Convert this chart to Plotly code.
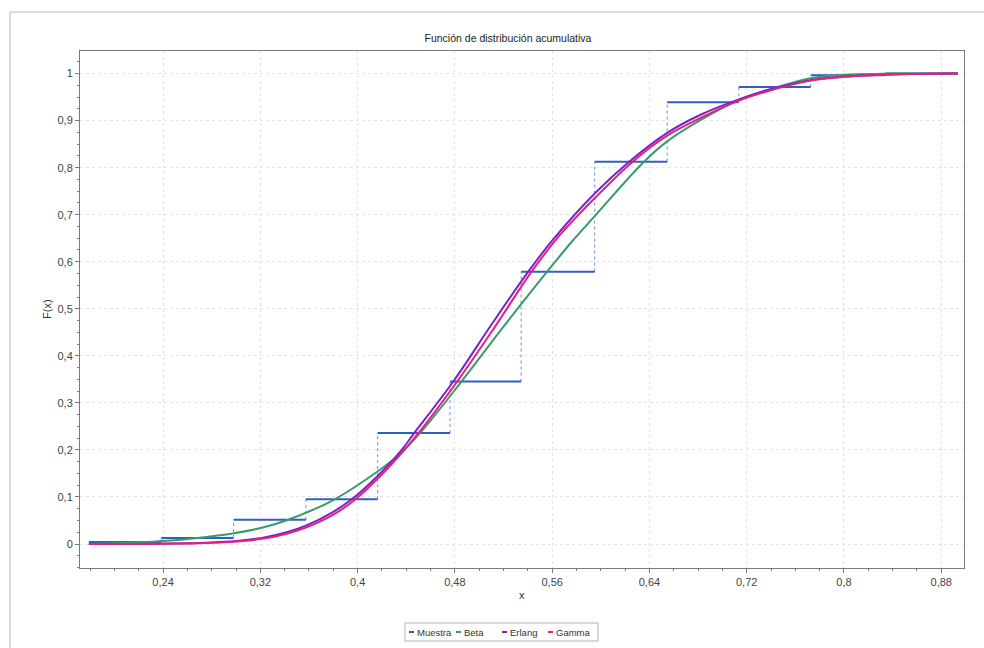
import plotly.graph_objects as go

# ---------------- data ----------------
muestra_edges = [0.179, 0.2385, 0.298, 0.3575, 0.4165, 0.476, 0.5345, 0.595,
                 0.6546, 0.7135, 0.7726, 0.8337, 0.8936]
muestra_values = [0.0043, 0.0129, 0.0514, 0.0953, 0.2358, 0.3454, 0.5790,
                  0.8128, 0.9390, 0.9716, 0.9964, 1.0]

beta_x = [0.179, 0.20, 0.22, 0.24, 0.2685, 0.2983, 0.3213, 0.3417, 0.3797,
          0.4158, 0.434, 0.4515, 0.4854, 0.52, 0.556, 0.5763, 0.595, 0.6345,
          0.6546, 0.6993, 0.7131, 0.7365, 0.7726, 0.805, 0.84, 0.8936]
beta_y = [0.0, 0.0015, 0.0035, 0.0064, 0.013, 0.023, 0.0345, 0.0505, 0.093,
          0.153, 0.190, 0.2362, 0.3454, 0.462, 0.5794, 0.643, 0.697, 0.810,
          0.856, 0.926, 0.943, 0.964, 0.990, 0.998, 1.0, 1.0]

erlang_x = [0.179, 0.22, 0.25, 0.275, 0.2983, 0.3213, 0.3417, 0.3574, 0.3797,
            0.3952, 0.4158, 0.434, 0.4467, 0.4787, 0.51, 0.5405, 0.560, 0.595,
            0.6226, 0.6546, 0.6816, 0.713, 0.7365, 0.7726, 0.805, 0.846, 0.8936]
erlang_y = [0.0, 0.0002, 0.001, 0.0028, 0.0057, 0.013, 0.025, 0.039, 0.068,
            0.095, 0.143, 0.193, 0.2362, 0.3454, 0.466, 0.5794, 0.645, 0.745,
            0.811, 0.874, 0.912, 0.9447, 0.9646, 0.9858, 0.9943, 0.9986, 1.0]

gamma_x = [0.179, 0.22, 0.25, 0.275, 0.2983, 0.3213, 0.3417, 0.3574, 0.3797,
           0.3973, 0.4158, 0.434, 0.4502, 0.4819, 0.5125, 0.5432, 0.5654, 0.595,
           0.6262, 0.6546, 0.6816, 0.713, 0.7365, 0.7726, 0.805, 0.846, 0.8936]
gamma_y = [0.0, 0.0002, 0.0009, 0.0024, 0.005, 0.011, 0.022, 0.035, 0.062,
           0.093, 0.137, 0.187, 0.2362, 0.3454, 0.460, 0.5794, 0.654, 0.735,
           0.8128, 0.868, 0.905, 0.942, 0.962, 0.985, 0.994, 0.9985, 1.0]

x_tick_vals = [0.24, 0.32, 0.40, 0.48, 0.56, 0.64, 0.72, 0.80, 0.88]
x_tick_text = ["0,24", "0,32", "0,4", "0,48", "0,56", "0,64", "0,72", "0,8", "0,88"]
y_tick_vals = [0, 0.1, 0.2, 0.3, 0.4, 0.5, 0.6, 0.7, 0.8, 0.9, 1.0]
y_tick_text = ["0", "0,1", "0,2", "0,3", "0,4", "0,5", "0,6", "0,7", "0,8", "0,9", "1"]

series_names = ["Muestra", "Beta", "Erlang", "Gamma"]
series_colors = ["#2f5fc0", "#3a9a6c", "#7a22cc", "#e61f7e"]

# ---------------- figure ----------------
FONT = "Liberation Sans, Arial, sans-serif"
fig = go.Figure()

# Muestra: solid horizontals + dotted verticals
hx, hy = [], []
for i, v in enumerate(muestra_values):
    hx += [muestra_edges[i], muestra_edges[i + 1], None]
    hy += [v, v, None]
vx, vy = [], []
for i in range(1, len(muestra_values)):
    vx += [muestra_edges[i], muestra_edges[i], None]
    vy += [muestra_values[i - 1], muestra_values[i], None]

fig.add_trace(go.Scatter(x=vx, y=vy, mode="lines", showlegend=False,
                         line=dict(color="#6f8fd6", width=1, dash="dot"),
                         hoverinfo="skip"))
fig.add_trace(go.Scatter(x=hx, y=hy, mode="lines", name="Muestra", showlegend=False,
                         line=dict(color=series_colors[0], width=2)))

for xs, ys, nm, col in [(beta_x, beta_y, "Beta", series_colors[1]),
                        (erlang_x, erlang_y, "Erlang", series_colors[2]),
                        (gamma_x, gamma_y, "Gamma", series_colors[3])]:
    fig.add_trace(go.Scatter(x=xs, y=ys, mode="lines", name=nm, showlegend=False,
                             line=dict(color=col, width=2, shape="spline", smoothing=1.0)))

# plot area in pixels: x 80..964, y 51..568
L, R, T, B = 80, 964, 51, 568
W, H = 984, 648
def px(xp):
    return (xp - L) / (R - L)
def py(yp):
    return (B - yp) / (B - T)

shapes = []
# outer frame
shapes.append(dict(type="rect", xref="paper", yref="paper",
                   x0=px(10), x1=px(1000), y0=py(700), y1=py(12),
                   line=dict(color="#b8b8b8", width=1), layer="below"))
# legend box
shapes.append(dict(type="rect", xref="paper", yref="paper",
                   x0=px(405), x1=px(598), y0=py(641), y1=py(623),
                   line=dict(color="#b0b0b0", width=1), fillcolor="white"))
leg_dash = [409, 456, 502, 548]
leg_text = [415, 462, 508, 554]
annotations = []
for i, nm in enumerate(series_names):
    shapes.append(dict(type="line", xref="paper", yref="paper",
                       x0=px(leg_dash[i]), x1=px(leg_dash[i] + 5),
                       y0=py(632), y1=py(632),
                       line=dict(color=series_colors[i], width=2)))
    annotations.append(dict(text=nm, xref="paper", yref="paper",
                            x=px(leg_text[i]), y=py(632.5), xanchor="left", yanchor="middle",
                            showarrow=False, font=dict(family=FONT, size=9.5, color="#333333")))

annotations.append(dict(text="x", xref="paper", yref="paper", x=px(522), y=py(595),
                        xanchor="center", yanchor="middle", showarrow=False,
                        font=dict(family=FONT, size=11, color="#333333")))
annotations.append(dict(text="F(x)", xref="paper", yref="paper", x=px(47), y=py(309),
                        xanchor="center", yanchor="middle", showarrow=False, textangle=-90,
                        font=dict(family=FONT, size=11, color="#333333")))

axis_common = dict(showline=True, linecolor="#7a7a7a", linewidth=1, mirror=True,
                   showgrid=True, gridcolor="#e4e4e4", griddash="dot", gridwidth=1,
                   zeroline=False, ticks="outside", ticklen=4, tickcolor="#7a7a7a",
                   tickfont=dict(family=FONT, size=11, color="#444444"))

fig.update_layout(
    width=W, height=H,
    margin=dict(l=L, r=W - R, t=T, b=H - B),
    paper_bgcolor="white", plot_bgcolor="white",
    title=dict(text="Función de distribución acumulativa", x=508 / W, y=1 - 38 / H,
               xref="container", yref="container", xanchor="center", yanchor="middle",
               font=dict(family=FONT, size=10.5, color="#222222")),
    xaxis=dict(range=[0.1717, 0.8987], tickvals=x_tick_vals, ticktext=x_tick_text,
               minor=dict(dtick=0.02, tick0=0.24, ticks="outside", ticklen=2,
                          tickcolor="#7a7a7a", showgrid=False),
               **axis_common),
    yaxis=dict(range=[-0.051, 1.048], tickvals=y_tick_vals, ticktext=y_tick_text,
               minor=dict(dtick=0.025, tick0=0, ticks="outside", ticklen=2,
                          tickcolor="#7a7a7a", showgrid=False),
               **axis_common),
    shapes=shapes,
    annotations=annotations,
    showlegend=False,
)

fig.write_html("out.html", config={"displayModeBar": False},
               post_script="document.body.style.margin='0px';")
